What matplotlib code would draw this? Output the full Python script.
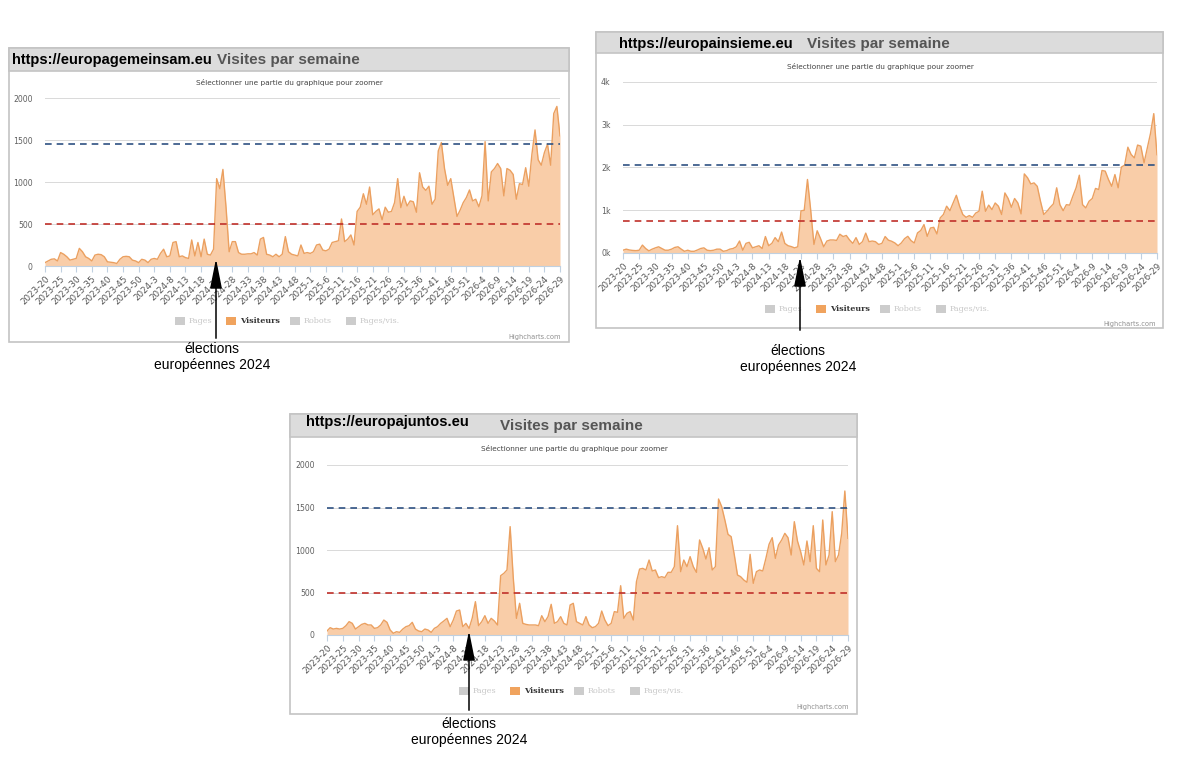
import matplotlib
matplotlib.use("Agg")
import matplotlib.pyplot as plt
from matplotlib.patches import Rectangle
import numpy as np

W, H = 1181, 759

# weekly categories 2023-20 .. 2026-29
weeks = ([f"2023-{w}" for w in range(20, 53)] + [f"2024-{w}" for w in range(1, 53)]
         + [f"2025-{w}" for w in range(1, 53)] + [f"2026-{w}" for w in range(1, 30)])

# visitors per week
gemeinsam = [
    40, 60, 80, 85, 60, 160, 140, 110, 70, 80,
    90, 210, 170, 110, 90, 60, 130, 140, 135, 110,
    50, 45, 40, 30, 80, 110, 115, 110, 70, 60,
    40, 80, 70, 40, 80, 90, 80, 150, 200, 110,
    120, 280, 290, 110, 120, 100, 90, 310, 120, 280,
    110, 320, 140, 130, 200, 1040, 920, 1150, 700, 170,
    290, 290, 160, 140, 140, 145, 145, 160, 130, 320,
    340, 140, 130, 110, 140, 110, 140, 350, 170, 140,
    130, 120, 250, 150, 160, 150, 170, 250, 260, 190,
    180, 200, 280, 290, 300, 560, 290, 320, 370, 250,
    650, 700, 860, 735, 940, 610, 650, 680, 550, 700,
    640, 650, 755, 1040, 695, 830, 715, 775, 765, 640,
    1110, 940, 900, 950, 735, 795, 1370, 1470, 1160, 960,
    1040, 815, 590, 665, 755, 815, 905, 775, 795, 705,
    835, 1480, 775, 1120, 1160, 1220, 1160, 835, 1160, 1140,
    1090, 795, 980, 970, 1170, 950, 1330, 1620, 1265, 1200,
    1350, 1450, 1200, 1815, 1900, 1550,
]
insieme = [
    65, 90, 70, 60, 55, 65, 185, 105, 50, 90,
    120, 145, 105, 65, 65, 90, 130, 145, 90, 40,
    65, 40, 40, 70, 105, 120, 65, 55, 65, 90,
    90, 40, 55, 90, 105, 145, 280, 65, 225, 250,
    120, 145, 170, 105, 385, 170, 225, 360, 265, 490,
    225, 170, 150, 120, 145, 985, 1000, 1720, 1000, 200,
    520, 345, 145, 280, 305, 305, 295, 440, 385, 410,
    305, 225, 360, 200, 265, 465, 265, 280, 265, 200,
    225, 385, 300,
    275, 235, 170, 235, 335, 390, 290, 235, 470, 525,
    665, 390, 585, 600, 445, 820, 900, 1095, 990, 1170,
    1350, 1095, 900, 835, 875, 835, 935, 975, 1445, 975,
    1120, 1015, 1170, 1095, 900, 1405, 1275, 1070, 1275, 1170,
    915, 1850, 1760, 1615, 1640, 1560, 1210, 900, 975, 1070,
    1150, 1525, 1130, 990, 1130, 1120, 1330, 1525, 1820, 1130,
    1055, 1210, 1275, 1510, 1485, 1930, 1915, 1720, 1560, 1835,
    1525, 2010, 2055, 2475, 2305, 2225, 2525, 2500, 2110, 2450,
    2800, 3260, 2300,
]
juntos = [
    47, 86, 70, 78, 70, 78, 110, 157, 137, 70,
    98, 125, 137, 118, 118, 78, 86, 118, 176, 149,
    59, 20, 39, 31, 70, 98, 110, 149, 70, 47,
    39, 70, 59, 31, 78, 98, 137, 165, 196, 98,
    176, 282, 294, 98, 137, 78, 200, 392, 110, 157,
    227, 137, 196, 165, 118, 698, 725, 765, 1275, 667,
    196, 373, 137, 125, 118, 118, 118, 110, 227, 157,
    216, 361, 137, 157, 216, 137, 118, 353, 373, 157,
    137, 118, 216,
    118, 86, 98, 137, 282, 176, 110, 137, 275, 267,
    580, 196, 255, 275, 176, 627, 776, 784, 765, 882,
    753, 765, 675, 686, 675, 737, 737, 804, 1286, 745,
    882, 804, 922, 804, 737, 1118, 1020, 894, 1027, 765,
    804, 1600, 1510, 1353, 1184, 1157, 941, 706, 686, 647,
    620, 949, 608, 745, 765, 753, 902, 1067, 1145, 902,
    1059, 1118, 1196, 1145, 941, 1333, 1106, 980, 824, 1106,
    863, 1286, 784, 745, 1353, 824, 941, 1451, 863, 941,
    1196, 1694, 1137,
]

sites = ["https://europagemeinsam.eu", "https://europainsieme.eu", "https://europajuntos.eu"]
blue_levels = [1450, 2070, 1500]
red_levels = [500, 740, 500]
y_max = [2000, 4000, 2000]
y_step = [500, 1000, 500]
y_labels = [["0", "500", "1000", "1500", "2000"],
            ["0k", "1k", "2k", "3k", "4k"],
            ["0", "500", "1000", "1500", "2000"]]
legend_names = ["Pages", "Visiteurs", "Robots", "Pages/vis."]

FILL = "#f9cda8"
LINE = "#eba060"
BLUE = "#2f5283"
RED = "#c0302a"
LABEL = "#606060"

# layout in pixels: box, header height, url pos, title pos, subtitle pos,
# plot rect, legend, credit, arrow (x, y bottom, y tip), text pos
layouts = [
    dict(box=(9, 48, 569, 342), hh=23, url=(12, 60), title=(217, 60), sub=(289, 83),
         plot=(45, 98, 560, 266), leg=(290, 321), cred=(561, 337),
         arrow=(216, 341, 256), txt=(212, 349)),
    dict(box=(596, 32, 1163, 328), hh=21, url=(619, 44), title=(807, 44), sub=(880, 67),
         plot=(623, 82, 1157, 253), leg=(880, 309), cred=(1156, 324),
         arrow=(800, 333, 254), txt=(798, 351)),
    dict(box=(290, 414, 857, 714), hh=23, url=(306, 422), title=(500, 426), sub=(574, 449),
         plot=(327, 465, 848, 635), leg=(574, 691), cred=(849, 707),
         arrow=(469, 713, 628), txt=(469, 724)),
]

fig = plt.figure(figsize=(W / 100, H / 100), dpi=100)
bg = fig.add_axes([0, 0, 1, 1])
bg.set_xlim(0, W)
bg.set_ylim(H, 0)
bg.axis("off")

series = [gemeinsam, insieme, juntos]
for k, lay in enumerate(layouts):
    x0, y0, x1, y1 = lay["box"]
    bg.add_patch(Rectangle((x0, y0), x1 - x0, y1 - y0, facecolor="white",
                           edgecolor="#c4c4c4", lw=1.2))
    bg.add_patch(Rectangle((x0, y0), x1 - x0, lay["hh"], facecolor="#dcdcdc",
                           edgecolor="#c4c4c4", lw=1.2))
    bg.text(*lay["url"], sites[k], fontsize=10.5, fontweight="bold", color="black",
            family="Liberation Sans", va="center")
    bg.text(*lay["title"], "Visites par semaine", fontsize=11, fontweight="bold",
            color="#555555", family="Liberation Sans", va="center")
    bg.text(*lay["sub"], "Sélectionner une partie du graphique pour zoomer",
            fontsize=5.3, color="#444444", ha="center", va="center")
    # legend
    cx, ly = lay["leg"]
    offs = [-115, -64, 0, 56]
    for name, o in zip(legend_names, offs):
        on = name == "Visiteurs"
        bg.add_patch(Rectangle((cx + o, ly - 4), 10, 8, lw=0,
                               facecolor="#f0a35e" if on else "#cccccc"))
        bg.text(cx + o + 14, ly, name, fontsize=5.8, va="center",
                color="#333333" if on else "#c8c8c8",
                fontweight="bold" if on else "normal", family="DejaVu Serif")
    bg.text(*lay["cred"], "Highcharts.com", fontsize=4.8, color="#909090",
            ha="right", va="center")

    # the chart itself
    px0, py0, px1, py1 = lay["plot"]
    ax = fig.add_axes([px0 / W, 1 - py1 / H, (px1 - px0) / W, (py1 - py0) / H])
    ax.set_facecolor("none")
    vals = series[k]
    x = np.arange(len(vals))
    ax.fill_between(x, vals, color=FILL, lw=0, zorder=2)
    ax.plot(x, vals, color=LINE, lw=1.0, zorder=3)
    ax.axhline(blue_levels[k], color=BLUE, ls=(0, (4, 3)), lw=1.2, zorder=4)
    ax.axhline(red_levels[k], color=RED, ls=(0, (4, 3)), lw=1.2, zorder=4)
    ax.set_xlim(0, len(vals) - 1)
    ax.set_ylim(0, y_max[k])
    ax.set_yticks(np.arange(0, y_max[k] + 1, y_step[k]))
    ax.set_yticklabels(y_labels[k], fontsize=5.6, color=LABEL)
    ax.grid(axis="y", color="#d9d9d9", lw=0.7, zorder=0)
    ticks = x[::5]
    ax.set_xticks(ticks)
    ax.set_xticklabels([weeks[i] for i in ticks], rotation=45, ha="right",
                       rotation_mode="anchor", fontsize=6.3, color="#555555")
    ax.tick_params(axis="x", length=4, color="#c0d0e0", pad=2)
    ax.tick_params(axis="y", length=0, pad=9)
    for s in ["top", "right", "left"]:
        ax.spines[s].set_visible(False)
    ax.spines["bottom"].set_color("#c0d0e0")

# annotations on top of everything
top = fig.add_axes([0, 0, 1, 1])
top.set_xlim(0, W)
top.set_ylim(H, 0)
top.axis("off")
top.set_facecolor("none")
for lay in layouts:
    ax_x, yb, yt = lay["arrow"]
    top.annotate("", xy=(ax_x, yt), xytext=(ax_x, yb),
                 arrowprops=dict(arrowstyle="-|>,head_length=1.4,head_width=0.28",
                                 color="black", lw=1.1, mutation_scale=13))
    tx, ty = lay["txt"]
    top.text(tx, ty, "élections", fontsize=10, family="Liberation Sans",
             ha="center", va="center")
    top.text(tx, ty + 16, "européennes 2024", fontsize=10, family="Liberation Sans",
             ha="center", va="center")

fig.savefig("out.png", dpi=100)
